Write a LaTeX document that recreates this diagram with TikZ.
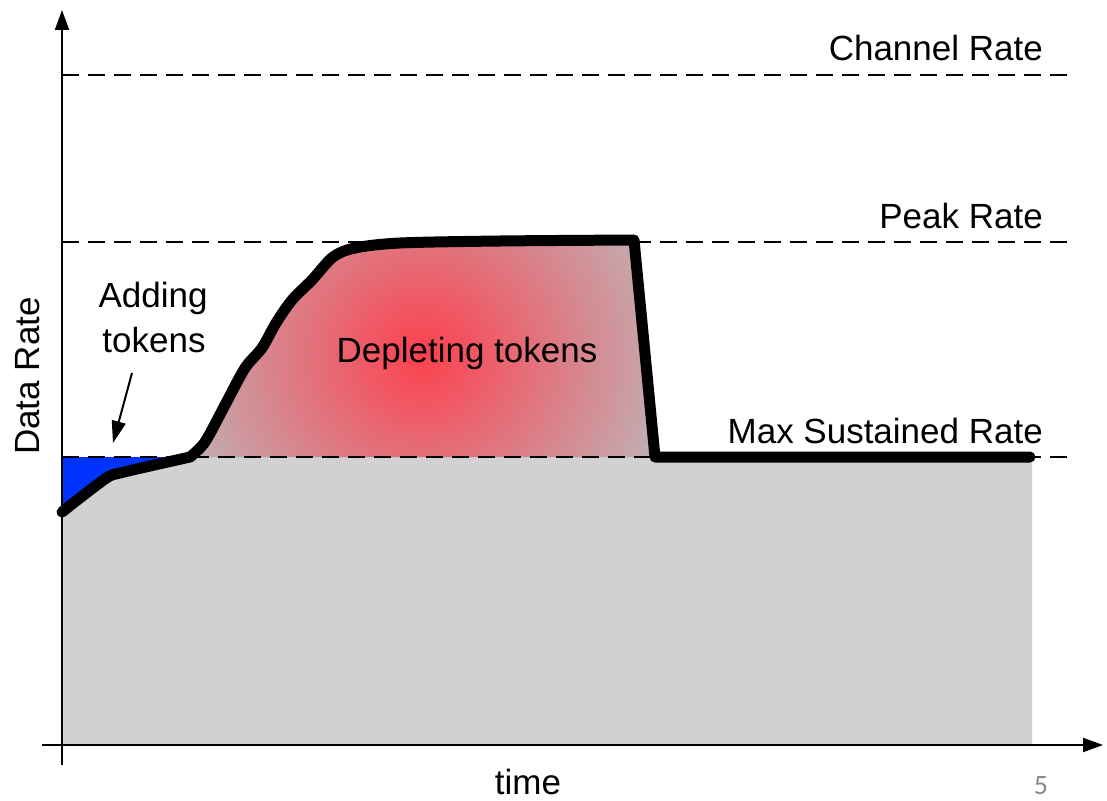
\documentclass[tikz,border=0pt]{standalone}
\usepackage{fontspec}
\setmainfont{Liberation Sans}
\newfontfamily\slidefont{Carlito}
\usetikzlibrary{arrows.meta}
\definecolor{grayfill}{RGB}{209,209,209}
\definecolor{tokblue}{RGB}{0,51,255}
\definecolor{hotred}{RGB}{253,64,78}
\definecolor{pinkgray}{RGB}{194,172,176}
\definecolor{pagenum}{RGB}{137,137,137}
\pgfdeclareradialshading{glow}{\pgfpoint{0bp}{0bp}}{color(0bp)=(hotred); color(25bp)=(pinkgray); color(50bp)=(pinkgray)}
\tikzset{
  axisline/.style={line width=2pt, -{Triangle[length=20pt,width=14pt]}},
  levelline/.style={line width=2pt, dash pattern=on 17pt off 9pt},
  ratecurve/.style={line width=11pt, line cap=round, line join=round},
  label/.style={inner sep=0pt, font=\fontsize{35}{42}\selectfont},
  pointer/.style={line width=2pt, -{Triangle[length=22pt,width=14pt]}}
}
\begin{document}
\begin{tikzpicture}[x=1pt,y=-1pt]
\useasboundingbox (0,0) rectangle (1107,800);
% coordinates
\coordinate (yb) at (62,765);
\coordinate (yt) at (62,10);
\coordinate (xl) at (42,745);
\coordinate (xr) at (1103,745);
\coordinate (ch0) at (62,75);   \coordinate (ch1) at (1068,75);
\coordinate (pk0) at (62,242);  \coordinate (pk1) at (1068,242);
\coordinate (ms0) at (62,457);  \coordinate (ms1) at (1068,457);
\coordinate (drop) at (655,457);
\coordinate (endc) at (1030,457);
\coordinate (arrs) at (132,373);
\coordinate (arre) at (113,443);
% gray area
\fill[grayfill] plot[smooth] coordinates {(62,512) (85,494) (108,477) (120,473) (150,466) (190,457)} -- (1032,457) -- (1032,745) -- (62,745) -- cycle;
% blue area
\fill[tokblue] plot[smooth] coordinates {(62,512) (85,494) (108,477) (120,473) (150,466) (190,457)} -- (62,457) -- cycle;
% red area
\begin{scope}
\clip plot[smooth] coordinates {(190,457) (205,442) (225,405) (245,368) (262,348) (276,323) (292,300) (312,280) (333,257) (355,248) (400,243) (500,241) (634,240)} -- (drop) -- cycle;
\fill[pinkgray] (180,230) rectangle (665,465);
\shade[shading=glow] (422,354) ellipse [x radius=245pt, y radius=235pt];
\end{scope}
% level lines
\draw[levelline] (ch0) -- (ch1);
\draw[levelline] (pk0) -- (pk1);
\draw[levelline] (ms0) -- (ms1);
% axes
\draw[axisline] (yb) -- (yt);
\draw[axisline] (xl) -- (xr);
% curve
\draw[ratecurve] plot[smooth] coordinates {(62,512) (85,494) (108,477) (120,473) (150,466) (190,457)} -- plot[smooth] coordinates {(190,457) (205,442) (225,405) (245,368) (262,348) (276,323) (292,300) (312,280) (333,257) (355,248) (400,243) (500,241) (634,240)} -- (drop) -- (endc);
% labels
\node[label, anchor=base east] (chl) at (1043,60) {Channel Rate};
\node[label, anchor=base east] (pkl) at (1043,228) {Peak Rate};
\node[label, anchor=base east] (msl) at (1043,443) {Max Sustained Rate};
\node[label, anchor=base] (add1) at (153,307) {Adding};
\node[label, anchor=base] (add2) at (154,352) {tokens};
\node[label, anchor=base] (dep) at (467,362) {Depleting tokens};
\node[label, rotate=90] (dr) at (28,376) {Data Rate};
\node[label, anchor=base] (tm) at (528,794) {time};
\node[inner sep=0pt, anchor=base, text=pagenum, font=\slidefont\fontsize{28}{32}\selectfont] (pg) at (1041,794) {5};
\draw[pointer] (arrs) -- (arre);
\end{tikzpicture}
\end{document}
